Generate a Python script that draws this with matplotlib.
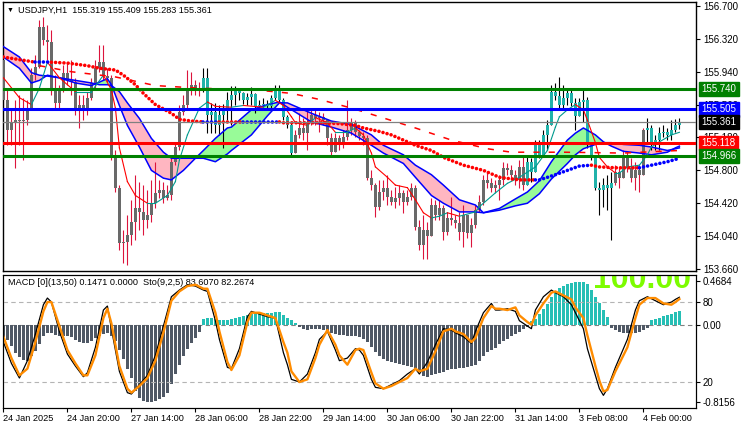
import numpy as np
import matplotlib
matplotlib.use("Agg")
import matplotlib.pyplot as plt

plt.rcParams['font.family'] = ['Liberation Sans', 'DejaVu Sans']

# ---- price data (USDJPY H1), one entry per bar ----
first_open = 156.08
closes = [
    155.61, 155.27, 155.36, 155.38, 155.37, 155.38, 155.52, 155.90, 155.99, 156.46,
    156.31, 156.28, 155.73, 155.58, 155.73, 155.93, 155.84, 155.82, 155.52, 155.56,
    155.50, 155.64, 155.81, 155.98, 156.05, 155.89, 155.87, 154.98, 154.60, 153.96,
    153.97, 154.05, 154.20, 154.36, 154.32, 154.23, 154.28, 154.42, 154.54, 154.57,
    154.48, 154.52, 154.90, 155.07, 155.47, 155.56, 155.75, 155.79, 155.73, 155.73,
    155.87, 155.44, 155.47, 155.32, 155.44, 155.50, 155.61, 155.67, 155.73, 155.69,
    155.61, 155.65, 155.68, 155.54, 155.56, 155.57, 155.54, 155.64, 155.73, 155.61,
    155.42, 155.32, 155.00, 155.21, 155.29, 155.23, 155.35, 155.44, 155.41, 155.42,
    155.38, 155.17, 155.01, 155.17, 155.09, 155.19, 155.27, 155.36, 155.24, 155.20,
    155.17, 154.71, 154.63, 154.38, 154.55, 154.60, 154.49, 154.43, 154.48, 154.54,
    154.43, 154.49, 154.60, 154.15, 153.94, 154.11, 154.04, 154.40, 154.28, 154.37,
    154.09, 154.25, 154.23, 154.19, 154.09, 154.28, 154.08, 154.17, 154.34, 154.43,
    154.69, 154.65, 154.60, 154.63, 154.69, 154.83, 154.80, 154.75, 154.69, 154.84,
    154.63, 154.90, 154.78, 155.09, 154.98, 155.21, 155.33, 155.71, 155.66, 155.56,
    155.64, 155.69, 155.58, 155.43, 155.59, 155.61, 155.09, 154.98, 154.60, 154.57,
    154.63, 154.60, 154.65, 154.78, 154.71, 154.98, 154.83, 154.71, 154.80, 154.75,
    155.27, 155.29, 155.09, 155.15, 155.23, 155.24, 155.21, 155.27, 155.319, 155.361,
]
highs = [
    156.42, 155.73, 155.52, 155.61, 155.67, 155.64, 155.61, 155.98, 156.13, 156.54,
    156.57, 156.48, 156.42, 155.90, 155.79, 156.02, 156.05, 156.08, 155.87, 155.67,
    155.67, 155.71, 155.87, 156.08, 156.25, 156.25, 155.98, 155.90, 155.04, 154.63,
    154.11, 154.28, 154.46, 154.75, 154.67, 154.63, 154.57, 154.69, 154.90, 154.69,
    154.67, 154.63, 154.98, 155.13, 155.56, 155.67, 155.96, 155.94, 155.84, 155.82,
    155.98, 155.98, 155.58, 155.58, 155.56, 155.57, 155.71, 155.78, 155.78, 155.75,
    155.71, 155.69, 155.76, 155.70, 155.61, 155.64, 155.61, 155.67, 155.79, 155.79,
    155.64, 155.44, 155.36, 155.27, 155.46, 155.41, 155.50, 155.52, 155.52, 155.48,
    155.46, 155.38, 155.23, 155.23, 155.21, 155.27, 155.61, 155.41, 155.38, 155.27,
    155.24, 155.21, 154.80, 154.65, 154.69, 154.69, 154.75, 154.57, 154.61, 154.63,
    154.57, 154.57, 154.65, 154.63, 154.23, 154.28, 154.20, 154.48, 154.46, 154.46,
    154.40, 154.32, 154.49, 154.28, 154.32, 154.40, 154.28, 154.25, 154.40, 154.52,
    154.75, 154.78, 154.71, 154.69, 154.75, 154.90, 154.88, 154.86, 154.80, 154.92,
    154.95, 154.98, 154.94, 155.15, 155.15, 155.27, 155.38, 155.79, 155.81, 155.88,
    155.79, 155.75, 155.73, 155.64, 155.64, 155.73, 155.65, 155.09, 154.98, 154.67,
    154.71, 154.75, 154.78, 154.86, 154.83, 155.04, 155.01, 154.94, 154.90, 154.86,
    155.29, 155.41, 155.32, 155.21, 155.30, 155.32, 155.29, 155.38, 155.39, 155.409,
]
lows = [
    155.50, 155.09, 155.09, 154.83, 155.09, 154.92, 155.33, 155.50, 155.84, 155.98,
    156.25, 156.08, 155.67, 155.52, 155.52, 155.71, 155.79, 155.67, 155.44, 155.29,
    155.38, 155.44, 155.61, 155.75, 155.94, 155.84, 155.82, 154.92, 154.55, 153.88,
    153.73, 153.71, 153.94, 153.99, 154.11, 154.05, 154.13, 154.20, 154.36, 154.48,
    154.42, 154.46, 154.46, 154.86, 155.04, 155.44, 155.50, 155.67, 155.67, 155.66,
    155.71, 155.23, 155.23, 155.23, 155.21, 155.06, 155.38, 155.33, 155.56, 155.61,
    155.57, 155.56, 155.56, 155.46, 155.50, 155.52, 155.52, 155.52, 155.61, 155.59,
    155.38, 155.29, 154.98, 155.00, 155.17, 155.15, 155.04, 155.33, 155.33, 155.24,
    155.33, 155.09, 154.95, 155.04, 155.04, 155.06, 155.15, 155.21, 155.19, 155.15,
    155.09, 154.69, 154.57, 154.26, 154.34, 154.46, 154.40, 154.40, 154.37, 154.40,
    154.31, 154.40, 154.46, 154.11, 153.88, 153.78, 153.78, 154.09, 154.23, 154.23,
    153.99, 154.05, 154.17, 154.13, 153.99, 153.91, 154.02, 153.91, 154.13, 154.32,
    154.40, 154.60, 154.55, 154.55, 154.46, 154.63, 154.75, 154.69, 154.63, 154.60,
    154.57, 154.75, 154.67, 154.78, 154.94, 154.98, 155.04, 155.33, 155.61, 155.52,
    155.52, 155.56, 155.54, 155.27, 155.48, 155.36, 155.06, 154.92, 154.57, 154.28,
    154.38, 154.34, 153.99, 154.63, 154.60, 154.75, 154.78, 154.67, 154.57, 154.55,
    154.80, 155.13, 155.04, 155.04, 155.04, 155.19, 155.15, 155.15, 155.24, 155.283,
]
# bars drawn with the "bull" (teal) scheme
teal_ranges = [(50, 72), (131, 152), (161, 169)]

# ---- moving averages (bar index, price) ----
slow_idx = [0, 4, 8, 12, 16, 21, 24, 28, 30, 33, 35, 38, 42, 44, 47, 50, 54, 57, 60, 64,
            69, 70, 75, 80, 84, 88, 90, 94, 97, 100, 103, 107, 110, 115, 120, 124, 129, 133, 134, 138,
            141, 144, 147, 149, 153, 159, 160, 162, 166, 169]
slow_val = [156.11, 156.08, 156.05, 156.05, 156.04, 156.01, 155.98, 155.96, 155.90, 155.79,
            155.69, 155.56, 155.46, 155.39, 155.37, 155.36, 155.36, 155.36, 155.36, 155.36,
            155.36, 155.35, 155.35, 155.35, 155.34, 155.32, 155.29, 155.25, 155.21, 155.15,
            155.09, 155.03, 154.95, 154.86, 154.80, 154.72, 154.69, 154.69, 154.69, 154.75,
            154.80, 154.85, 154.86, 154.84, 154.83, 154.83, 154.84, 154.86, 154.90, 154.94]
# 1 = rising (blue dots) on the stretch ending at that reading, 0 = falling (red)
slow_up = [0, 0, 0, 1, 0, 0, 0, 0, 0, 0, 0, 0, 0, 0, 0, 0, 1, 0, 0, 1,
           1, 0, 0, 0, 0, 0, 0, 0, 0, 0, 0, 0, 0, 0, 0, 0, 0, 0, 1, 1,
           1, 1, 1, 0, 0, 0, 1, 1, 1, 1]

fast_idx = [0, 4, 7, 9, 11, 14, 18, 22, 25, 27, 28, 29, 31, 33, 36, 38, 41, 43, 44, 46,
            49, 51, 53, 57, 60, 65, 68, 70, 72, 73, 76, 78, 81, 83, 86, 88, 90, 92, 93, 96,
            98, 101, 103, 105, 107, 109, 111, 114, 118, 119, 123, 126, 129, 133, 136, 138, 139, 141,
            143, 145, 146, 148, 149, 151, 153, 154, 156, 159, 161, 162, 164, 167, 169]
fast_val = [155.87, 155.64, 155.56, 155.75, 156.05, 155.87, 155.71, 155.71, 155.90, 155.73,
            155.52, 155.06, 154.67, 154.51, 154.42, 154.42, 154.51, 154.67, 154.92, 155.21,
            155.52, 155.59, 155.54, 155.53, 155.55, 155.53, 155.61, 155.55, 155.42, 155.35,
            155.32, 155.41, 155.35, 155.24, 155.24, 155.29, 155.21, 155.00, 154.84, 154.72,
            154.63, 154.60, 154.46, 154.31, 154.25, 154.27, 154.31, 154.27, 154.32, 154.38,
            154.54, 154.65, 154.72, 154.84, 155.03, 155.30, 155.42, 155.50, 155.56, 155.50,
            155.38, 155.12, 154.95, 154.84, 154.77, 154.77, 154.84, 154.86, 154.98, 155.07,
            155.13, 155.21, 155.24]

mid_idx = [9, 17, 28, 38, 49, 63, 72, 79, 87, 94, 103, 112, 121, 127, 140, 155, 169]
mid_val = [156.01, 155.94, 155.88, 155.78, 155.75, 155.73, 155.69, 155.62, 155.52, 155.42,
           155.29, 155.15, 155.05, 155.01, 155.01, 155.00, 155.03]

band_idx = [0, 4, 7, 9, 11, 14, 18, 22, 24, 26, 27, 29, 31, 34, 37, 40, 42, 45, 48, 50,
            53, 56, 57, 62, 66, 69, 71, 77, 82, 87, 92, 95, 100, 103, 107, 110, 114, 118, 120, 124,
            128, 131, 134, 137, 141, 143, 145, 148, 150, 152, 155, 159, 162, 166, 168, 169]
band_a = [156.11, 155.98, 155.81, 155.84, 155.90, 155.87, 155.81, 155.78, 155.82, 155.86,
          155.79, 155.55, 155.32, 155.07, 154.80, 154.71, 154.69, 154.80, 154.94, 155.03,
          155.17, 155.29, 155.30, 155.50, 155.56, 155.59, 155.53, 155.36, 155.30, 155.23,
          155.09, 155.00, 154.88, 154.72, 154.51, 154.42, 154.32, 154.32, 154.31, 154.36,
          154.47, 154.55, 154.68, 154.90, 155.15, 155.23, 155.29, 155.21, 155.13, 155.08,
          155.02, 155.00, 154.98, 155.01, 155.06, 155.08]
band_b = [156.23, 156.11, 155.93, 155.90, 155.89, 155.87, 155.84, 155.81, 155.79, 155.79,
          155.78, 155.71, 155.58, 155.40, 155.17, 155.01, 154.94, 154.94, 154.94, 154.94,
          154.90, 154.99, 155.03, 155.21, 155.43, 155.58, 155.58, 155.46, 155.37, 155.33,
          155.21, 155.09, 154.98, 154.86, 154.75, 154.63, 154.46, 154.40, 154.31, 154.34,
          154.39, 154.42, 154.53, 154.70, 154.88, 154.98, 155.05, 155.10, 155.12, 155.12,
          155.10, 155.09, 155.07, 155.03, 155.05, 155.06]

levels = [155.740, 155.505, 155.118, 154.966]
level_colors = ['#008000', '#0000FF', '#FF0000', '#008000']
last_price = 155.361

# ---- MACD histogram, one per bar ----
macd = [
    -0.13, -0.16, -0.22, -0.30, -0.34, -0.37, -0.38, -0.33, -0.27, -0.20,
    -0.12, -0.08, -0.08, -0.10, -0.11, -0.11, -0.11, -0.13, -0.16, -0.18,
    -0.19, -0.19, -0.17, -0.14, -0.12, -0.09, -0.08, -0.12, -0.17, -0.26,
    -0.36, -0.46, -0.56, -0.70, -0.77, -0.80, -0.82, -0.82, -0.80, -0.78,
    -0.76, -0.72, -0.62, -0.52, -0.42, -0.33, -0.25, -0.19, -0.14, -0.07,
    0.06, 0.08, 0.08, 0.07, 0.05, 0.05, 0.05, 0.06, 0.08, 0.09,
    0.10, 0.11, 0.12, 0.13, 0.13, 0.13, 0.13, 0.13, 0.14, 0.14,
    0.11, 0.08, 0.05, 0.02, -0.02, -0.04, -0.05, -0.04, -0.04, -0.04,
    -0.05, -0.07, -0.08, -0.09, -0.10, -0.10, -0.11, -0.11, -0.12, -0.13,
    -0.15, -0.18, -0.23, -0.29, -0.33, -0.36, -0.38, -0.39, -0.40, -0.41,
    -0.42, -0.43, -0.44, -0.45, -0.50, -0.54, -0.55, -0.53, -0.52, -0.51,
    -0.50, -0.48, -0.47, -0.46, -0.45, -0.45, -0.44, -0.43, -0.42, -0.38,
    -0.33, -0.29, -0.26, -0.24, -0.20, -0.17, -0.15, -0.12, -0.09, -0.07,
    -0.04, -0.02, 0.04, 0.07, 0.12, 0.17, 0.22, 0.30, 0.35, 0.39,
    0.42, 0.44, 0.45, 0.46, 0.46, 0.46, 0.44, 0.37, 0.30, 0.23,
    0.16, 0.09, -0.03, -0.05, -0.07, -0.08, -0.08, -0.08, -0.08, -0.07,
    -0.05, -0.03, 0.05, 0.07, 0.08, 0.10, 0.11, 0.12, 0.14, 0.15,
]

# ---- Stochastic (9,2,5) read at selected bars ----
sto_idx = [0, 2, 4, 6, 8, 10, 11, 12, 14, 16, 18, 20, 21, 23, 25, 26, 27, 29, 31, 32,
           34, 36, 38, 40, 42, 44, 46, 48, 50, 51, 53, 54, 56, 57, 59, 61, 62, 64, 66, 68,
           70, 71, 72, 74, 76, 78, 79, 81, 83, 84, 86, 88, 89, 90, 92, 93, 95, 97, 99, 101,
           103, 104, 106, 108, 110, 112, 113, 115, 117, 118, 120, 122, 123, 124, 126, 128, 129, 131,
           132, 133, 135, 137, 138, 140, 142, 143, 145, 146, 148, 149, 150, 151, 153, 154, 156, 158,
           159, 161, 163, 165, 167, 168, 169]
sto_d = [54, 38, 25, 30, 50, 73, 80, 80, 62, 44, 34, 25, 25, 40, 68, 75, 64, 32, 15, 12,
         17, 23, 36, 57, 81, 88, 92, 93, 90, 90, 72, 58, 35, 29, 40, 65, 72, 72, 70, 68,
         50, 42, 28, 20, 22, 38, 48, 59, 48, 40, 33, 44, 45, 44, 27, 19, 15, 17, 20, 23,
         30, 28, 30, 43, 58, 60, 58, 56, 50, 53, 68, 77, 75, 75, 74, 76, 70, 65, 63, 70,
         79, 87, 88, 85, 82, 76, 68, 55, 32, 21, 13, 14, 28, 34, 46, 68, 78, 83, 83, 79,
         78, 80, 82.27]
sto_k = [50, 34, 23, 36, 56, 78, 83, 80, 58, 41, 32, 24, 27, 46, 74, 77, 60, 28, 12, 11,
         18, 25, 40, 62, 84, 89, 93, 92, 89, 88, 66, 52, 31, 30, 45, 69, 73, 71, 69, 68,
         42, 33, 22, 20, 26, 42, 52, 58, 44, 36, 38, 45, 44, 40, 22, 16, 15, 18, 21, 26,
         30, 26, 35, 48, 60, 59, 57, 54, 49, 58, 72, 79, 74, 74, 75, 73, 66, 62, 60, 74,
         84, 89, 87, 84, 78, 72, 60, 45, 25, 15, 10, 15, 31, 38, 52, 74, 81, 84, 81, 78,
         80, 82, 83.61]

tick_pos = [0, 16, 32, 48, 64, 80, 96, 112, 128, 144, 160]
tick_labels = ['24 Jan 2025', '24 Jan 20:00', '27 Jan 14:00', '28 Jan 06:00', '28 Jan 22:00',
               '29 Jan 14:00', '30 Jan 06:00', '30 Jan 22:00', '31 Jan 14:00', '3 Feb 08:00',
               '4 Feb 00:00']
price_ticks = [156.700, 156.320, 155.940, 155.560, 155.180, 154.800, 154.420, 154.040, 153.660]

# ---------------------------------------------------------------
W, H = 750, 430
fig = plt.figure(figsize=(7.5, 4.3), dpi=100)
ax = fig.add_axes([3 / W, 1 - 271 / H, 693 / W, 269 / H])
axm = fig.add_axes([3 / W, 1 - 408 / H, 693 / W, 133 / H])
ax2 = axm.twinx()

xlim = (-0.1, -0.1 + 693 / 4)
n = len(closes)
x = np.arange(n)
c = np.array(closes)
o = np.r_[first_open, c[:-1]]
hi = np.maximum(np.array(highs), np.maximum(o, c))
lo = np.minimum(np.array(lows), np.minimum(o, c))
teal = np.zeros(n, dtype=bool)
for a, b in teal_ranges:
    teal[a:b + 1] = True

# band fill
bi = np.array(band_idx)
ba = np.array(band_a)
bb = np.array(band_b)
ax.fill_between(bi, ba, bb, where=ba >= bb, interpolate=True, color='#98FB98', lw=0, zorder=1)
ax.fill_between(bi, ba, bb, where=ba < bb, interpolate=True, color='#FFB6C1', lw=0, zorder=1)

# candles
ax.vlines(x, lo, hi, colors=np.where(teal, '#000000', '#DC143C'), lw=0.8, zorder=2)
ax.bar(x, np.maximum(np.abs(c - o), 0.012), bottom=np.minimum(o, c), width=0.75,
       color=np.where(teal, '#20B2AA', '#696969'), lw=0, zorder=3)

# band edges
ax.plot(bi, ba, color='#0000FF', lw=1.1, zorder=4)
ax.plot(bi, bb, color='#0000FF', lw=1.1, zorder=4)

# fast MA, colored by direction
for k in range(1, len(fast_idx)):
    col = '#009A8E' if fast_val[k] >= fast_val[k - 1] else '#FF0000'
    ax.plot(fast_idx[k - 1:k + 1], fast_val[k - 1:k + 1], color=col, lw=0.8, zorder=4)

# dashed MA
ax.plot(mid_idx, mid_val, color='#FF0000', lw=1.1, dashes=(4, 6), zorder=4)

# dotted slow MA: runs of equal direction drawn as one dotted polyline
runs = []
start = 0
for k in range(2, len(slow_idx)):
    if slow_up[k] != slow_up[k - 1]:
        runs.append((start, k - 1, slow_up[k - 1]))
        start = k - 1
runs.append((start, len(slow_idx) - 1, slow_up[-1]))
for s0, s1, up in runs:
    ax.plot(slow_idx[s0:s1 + 1], slow_val[s0:s1 + 1], color='#0000FF' if up else '#FF0000',
            lw=2.6, linestyle=(0, (0.01, 1.15)), dash_capstyle='round', zorder=5)

# horizontal levels
for v, col in zip(levels, level_colors):
    ax.axhline(v, color=col, lw=2.2, zorder=6)
ax.axhline(last_price, color='#808080', lw=0.9, zorder=5.5)

ax.set_xlim(*xlim)
ax.set_ylim(153.637, 156.746)
ax.set_xticks([])
ax.yaxis.tick_right()
ax.set_yticks(price_ticks)
ax.set_yticklabels([f'{v:.3f}' for v in price_ticks])
ax.tick_params(axis='y', direction='out', length=3, pad=2, labelsize=7, width=0.8)
for s in ax.spines.values():
    s.set_linewidth(1)

trans = ax.get_yaxis_transform()
for v, col in zip(levels + [last_price], level_colors + ['#000000']):
    ax.text(1.008, v, f'{v:.3f}', transform=trans, color='white', fontsize=7,
            va='center', ha='left', zorder=20, clip_on=False,
            bbox=dict(boxstyle='square,pad=0.22', fc=col, ec=col))

fig.text(7 / W, 1 - 10 / H, '\u25BC', fontsize=5, va='center', ha='left')
fig.text(18 / W, 1 - 10 / H, 'USDJPY,H1  155.319 155.409 155.283 155.361',
         fontsize=6.6, va='center', ha='left')

# ---- lower panel ----
mv = np.array(macd)
axm.bar(x, mv, width=0.75, color=np.where(mv >= 0, '#26BFB5', '#4F5865'), lw=0, zorder=2)
axm.axhline(0, color='#808080', lw=0.8, ls=(0, (4, 3)), zorder=1)
axm.set_ylim(-0.879, 0.532)
axm.set_xlim(*xlim)
axm.yaxis.tick_right()
axm.set_yticks([0.4684, 0.0, -0.8156])
axm.set_yticklabels(['0.4684', '0.00', '-0.8156'])
axm.tick_params(axis='y', direction='out', length=3, pad=2, labelsize=7, width=0.8)
axm.set_xticks(tick_pos)
axm.set_xticklabels(tick_labels)
axm.tick_params(axis='x', direction='out', length=3, pad=1, labelsize=6.6, width=0.8)
for lab in axm.get_xticklabels():
    lab.set_horizontalalignment('left')
# large green label cut off by the panel top: only its lower part shows
axm.text(0.852, 0.905, '100.00', transform=axm.transAxes, fontsize=23,
         color='#7CFC00', fontweight='bold', va='baseline', ha='left', clip_on=True, zorder=0)
axm.text(0.007, 0.94, 'MACD [0](13,50) 0.1471 0.0000  Sto(9,2,5) 83.6070 82.2674',
         transform=axm.transAxes, fontsize=6.6, va='center', ha='left', zorder=3)

ax2.axhline(80, color='#B4B4B4', lw=0.8, ls=(0, (4, 3)))
ax2.axhline(20, color='#B4B4B4', lw=0.8, ls=(0, (4, 3)))
ax2.plot(sto_idx, sto_k, color='black', lw=0.9)
ax2.plot(sto_idx, sto_d, color='#FF8C00', lw=1.7)
ax2.set_ylim(0.5, 100.3)
ax2.set_yticks([80, 20])
ax2.set_yticklabels(['80', '20'])
ax2.tick_params(axis='y', direction='out', length=3, pad=2, labelsize=7, width=0.8)

fig.savefig('out.png', dpi=100)
